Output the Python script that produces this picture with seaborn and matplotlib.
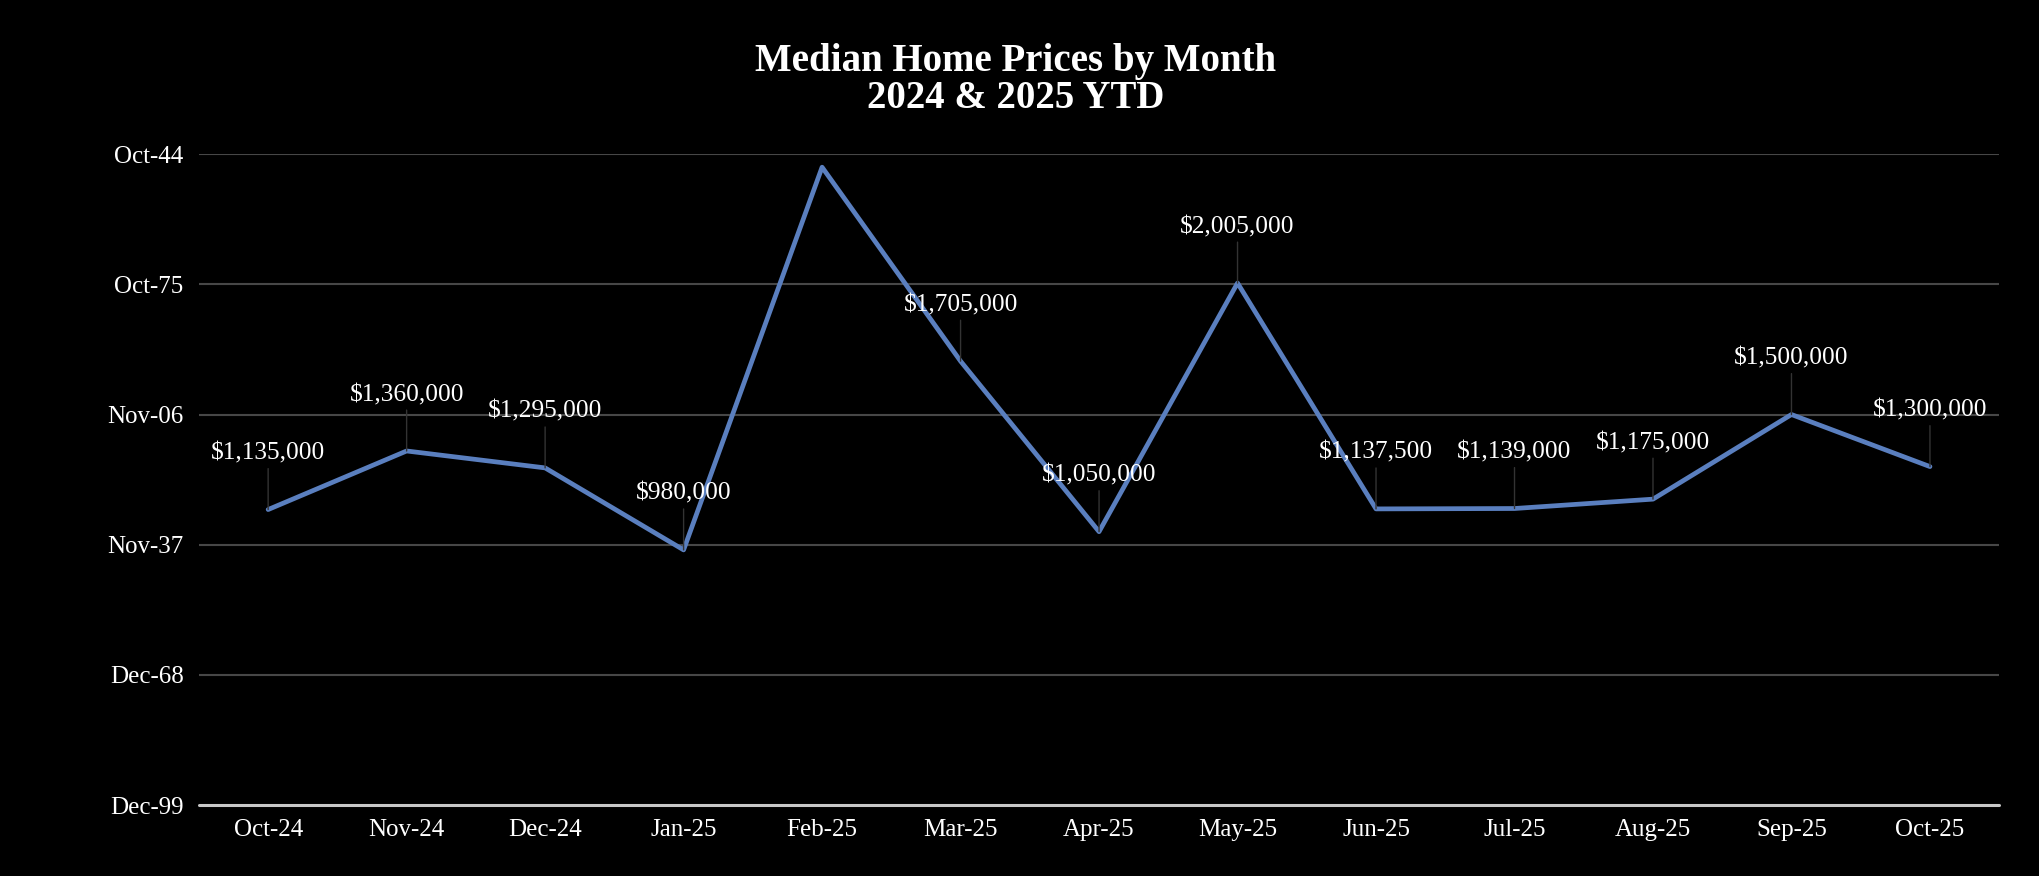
import datetime as dt
import pandas as pd
import matplotlib
matplotlib.use("Agg")
import matplotlib.pyplot as plt
from matplotlib.ticker import FuncFormatter, FixedLocator
import seaborn as sns

## chart data
months = ["Oct-24", "Nov-24", "Dec-24", "Jan-25", "Feb-25", "Mar-25", "Apr-25",
          "May-25", "Jun-25", "Jul-25", "Aug-25", "Sep-25", "Oct-25"]
prices = [1135000, 1360000, 1295000, 980000, 2450000, 1705000, 1050000,
          2005000, 1137500, 1139000, 1175000, 1500000, 1300000]
y_ticks = [0, 500000, 1000000, 1500000, 2000000, 2500000]

df = pd.DataFrame({"month": months, "price": prices})

sns.set_style("dark")
plt.rcParams["font.family"] = ["Liberation Serif", "DejaVu Serif"]

fig = plt.figure(figsize=(20.4, 8.76), dpi=100, facecolor="black")
ax = fig.add_axes([0.0975, 0.081, 0.8825, 0.743], facecolor="black")

sns.lineplot(data=df, x="month", y="price", ax=ax, color="#5a7fbf",
             linewidth=3.4, sort=False, zorder=3)

## y axis: numbers shown with a date format (serial days from 1899-12-30)
def as_date(v, pos):
    d = dt.datetime(1899, 12, 30) + dt.timedelta(days=float(v))
    return d.strftime("%b-%y")

ax.set_ylim(0, 2500000)
ax.set_xlim(-0.5, len(months) - 0.5)
ax.yaxis.set_major_locator(FixedLocator(y_ticks))
ax.yaxis.set_major_formatter(FuncFormatter(as_date))
ax.grid(False)
for v in y_ticks[1:]:
    ax.axhline(v, color="#474747", lw=1.5, zorder=1)
ax.axhline(0, color="#c8c8c8", lw=2.2, zorder=2, clip_on=False)

for s in ax.spines.values():
    s.set_visible(False)
ax.tick_params(axis="both", length=0, colors="white", labelsize=18)
ax.tick_params(axis="y", pad=11)
ax.tick_params(axis="x", pad=10)
ax.set_xlabel("")
ax.set_ylabel("")

## data labels with thin leader lines
off_px = 56
off_val = off_px / (0.743 * 876) * 2500000
for i, p in enumerate(prices):
    if p + off_val > 2500000:
        continue  # label would sit over the title, the reference leaves it out
    ax.annotate(f"${p:,.0f}", xy=(i, p), xytext=(0, off_px * 0.72),
                textcoords="offset points", ha="center", va="center",
                color="white", fontsize=18.3,
                bbox=dict(boxstyle="square,pad=0.05", fc="none", ec="none"),
                arrowprops=dict(arrowstyle="-", color="#333333", lw=1.0,
                                shrinkA=2, shrinkB=0),
                zorder=4)

fig.text(0.498, 0.909, "Median Home Prices by Month\n2024 & 2025 YTD",
         ha="center", va="center", color="white", fontsize=28,
         fontweight="bold", linespacing=1.0)

fig.savefig("out.png", dpi=100, facecolor="black")
